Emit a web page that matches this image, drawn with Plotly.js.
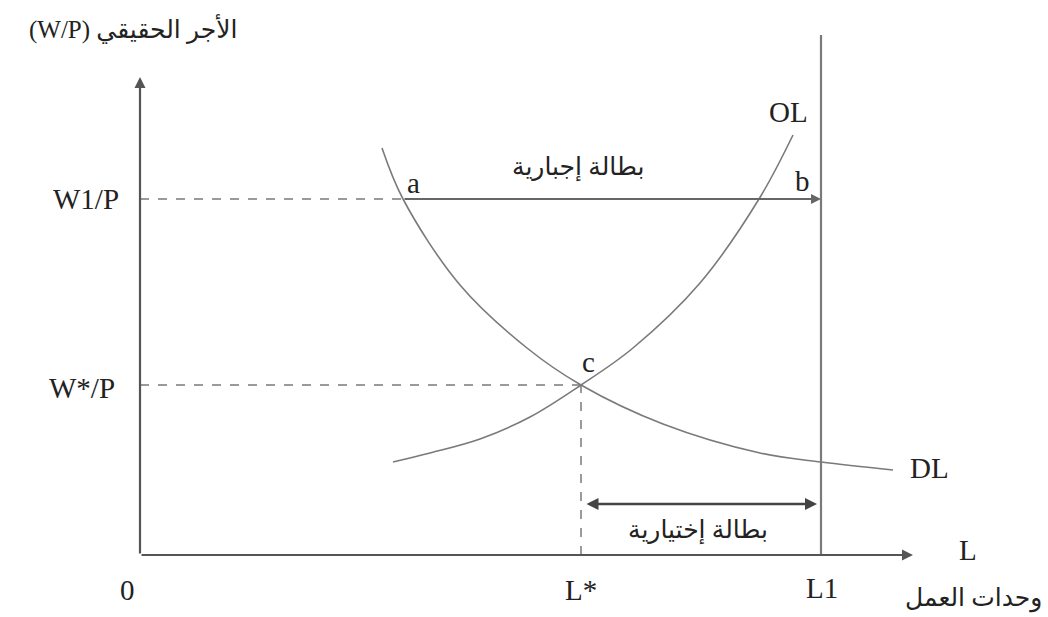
<!DOCTYPE html>
<html>
<head>
<meta charset="utf-8">
<script src="https://cdn.plot.ly/plotly-3.0.1.min.js"></script>
<style>html,body{margin:0;padding:0;background:#fff}#chart{width:1048px;height:617px}</style>
</head>
<body>
<div id="chart"></div>
<script>
// Key levels (labour units L, real wage W/P)
const L_star = 44.1;
const L_1 = 68.1;
const W_1 = 35.6;
const W_star = 17.0;
const axisTopW = 47.8;
const axisRightL = 77.3;
const lineTopW = 52.0;
const volArrowW = 5.1;

// Labour demand curve DL
const dlL = [24.2, 26.3, 32.0, 38.7, 44.1, 52.3, 62.0, 68.1, 75.3];
const dlW = [40.7, 35.6, 27.0, 20.7, 17.0, 13.1, 10.2, 9.3, 8.5];

// Labour supply curve OL
const olL = [25.3, 29.0, 34.0, 39.0, 44.1, 49.3, 56.0, 61.9, 65.3];
const olW = [9.3, 10.2, 11.6, 13.8, 17.0, 20.7, 27.2, 35.6, 42.0];

// Texts
const yTitle = "(W/P) الأجر الحقيقي";
const xTitleAr = "وحدات العمل";
const xTitleL = "L";
const involuntary = "بطالة إجبارية";
const voluntary = "بطالة إختيارية";
const wLabels = ["W1/P", "W*/P"];
const lLabels = ["0", "L*", "L1"];

const grey = "#7a7a7a";
const serif = "Liberation Serif, Times New Roman, serif";
const arab = "Liberation Serif, DejaVu Sans, Noto Sans, sans-serif";

const traces = [
  {x: dlL, y: dlW, mode: "lines", line: {color: grey, width: 1.6, shape: "spline", smoothing: 1}, hoverinfo: "skip"},
  {x: olL, y: olW, mode: "lines", line: {color: grey, width: 1.6, shape: "spline", smoothing: 1}, hoverinfo: "skip"},
  // vertical L1 line
  {x: [L_1, L_1], y: [0, lineTopW], mode: "lines", line: {color: grey, width: 2.2}, hoverinfo: "skip"},
  // dashed guides
  {x: [0, dlL[1]], y: [W_1, W_1], mode: "lines", line: {color: grey, width: 1.5, dash: "dash"}, hoverinfo: "skip"},
  {x: [0, L_star], y: [W_star, W_star], mode: "lines", line: {color: grey, width: 1.5, dash: "dash"}, hoverinfo: "skip"},
  {x: [L_star, L_star], y: [0, W_star], mode: "lines", line: {color: grey, width: 1.5, dash: "dash"}, hoverinfo: "skip"}
];

function arrow(x0, y0, x1, y1, opts) {
  return Object.assign({
    x: x1, y: y1, ax: x0, ay: y0, xref: "x", yref: "y", axref: "x", ayref: "y",
    text: "", showarrow: true, arrowhead: 2, arrowsize: 1, arrowwidth: 2.2, arrowcolor: grey
  }, opts || {});
}
function label(x, y, text, size, font, opts) {
  return Object.assign({
    x: x, y: y, xref: "x", yref: "y", text: text, showarrow: false,
    xanchor: "center", yanchor: "middle",
    font: {family: font, size: size, color: "#222"}
  }, opts || {});
}

const annotations = [
  arrow(0, 0, 0, axisTopW, {arrowcolor: "#555"}),
  arrow(0, 0, axisRightL, 0, {arrowcolor: "#555"}),
  arrow(dlL[1], W_1, L_1, W_1, {arrowwidth: 2, arrowcolor: "#666"}),
  arrow(L_star + 0.4, volArrowW, L_1 - 0.4, volArrowW, {arrowside: "end+start", arrowwidth: 2.4, arrowcolor: "#444"}),
  label(-0.7, 52.7, yTitle, 25, arab),
  label(-5.4, W_1, wLabels[0], 29, serif),
  label(-5.8, W_star - 0.3, wLabels[1], 29, serif),
  label(-1.3, -3.5, lLabels[0], 29, serif),
  label(L_star, -3.5, lLabels[1], 29, serif),
  label(L_1 + 0.1, -3.3, lLabels[2], 29, serif),
  label(82.8, 0.5, xTitleL, 29, serif),
  label(83.3, -4.3, xTitleAr, 25, arab),
  label(27.3, 37.2, "a", 29, serif),
  label(66.2, 37.4, "b", 29, serif),
  label(44.8, 19.3, "c", 29, serif),
  label(64.8, 44.3, "OL", 29, serif),
  label(78.9, 8.7, "DL", 29, serif),
  label(43.8, 38.8, involuntary, 25, arab),
  label(55.8, 2.5, voluntary, 25, arab)
];

const layout = {
  width: 1048, height: 617,
  margin: {l: 0, r: 0, t: 0, b: 0},
  paper_bgcolor: "#fff", plot_bgcolor: "#fff",
  showlegend: false,
  xaxis: {range: [-14, 90.8], visible: false, fixedrange: true},
  yaxis: {range: [-6.2, 55.5], visible: false, fixedrange: true},
  annotations: annotations
};

Plotly.newPlot("chart", traces, layout, {staticPlot: true, displayModeBar: false});
</script>
</body>
</html>
